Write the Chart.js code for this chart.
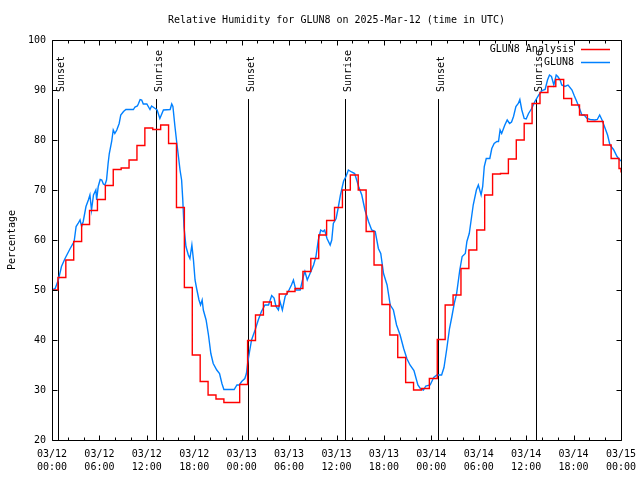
<!DOCTYPE html>
<html>
<head>
<meta charset="utf-8">
<title>Relative Humidity for GLUN8</title>
<script src="https://cdn.jsdelivr.net/npm/chart.js@4.4.1/dist/chart.umd.min.js"></script>
<style>
  html, body { margin: 0; padding: 0; background: #fff; }
  canvas { display: block; }
</style>
</head>
<body>
<canvas id="graficoUmidade" width="640" height="480"></canvas>
<script>
var chartTitle = 'Relative Humidity for GLUN8 on 2025-Mar-12 (time in UTC)';
var yAxisTitle = 'Percentage';
var seriesNames = ['GLUN8 Analysis', 'GLUN8'];

// x axis is hours since 03/12 00:00 UTC
var xTickLabels = [
    ['03/12', '00:00'], ['03/12', '06:00'], ['03/12', '12:00'], ['03/12', '18:00'],
    ['03/13', '00:00'], ['03/13', '06:00'], ['03/13', '12:00'], ['03/13', '18:00'],
    ['03/14', '00:00'], ['03/14', '06:00'], ['03/14', '12:00'], ['03/14', '18:00'],
    ['03/15', '00:00']
];

var eventHours = [0.8, 13.2, 24.75, 37.1, 48.8, 61.2];
var eventLabels = ['Sunset', 'Sunrise', 'Sunset', 'Sunrise', 'Sunset', 'Sunrise'];

// analysis: hourly values, each one holds from (hour + 0.75) to the next
var redStartValue = 50;
var redEndValue = 73.5;
var redValues = [
    52.5, 56, 59.7, 63.1, 65.9, 68.1, 70.9, 74.1, 74.4, 76,
    78.9, 82.4, 82.1, 83, 79.3, 66.5, 50.5, 37, 31.7, 29,
    28.2, 27.5, 27.5, 31.1, 39.9, 45, 47.6, 46.8, 49.2, 49.7,
    50.3, 53.7, 56.3, 61, 63.9, 66.5, 70, 73, 70, 61.7,
    55, 47.1, 41, 36.5, 31.5, 30, 30.3, 32.3, 40.1, 47,
    49, 54.3, 58, 62, 69, 73.2, 73.3, 76.2, 80, 83.3,
    87.3, 89.5, 90.7, 92.1, 88.3, 87, 85, 83.7, 83.7, 79,
    76.3, 74.3
];

// station observations
var blueHours = [
    0, 0.4, 0.8, 1.2, 1.65, 2.3, 2.8, 3.05, 3.3, 3.55,
    3.75, 3.95, 4.3, 4.6, 4.8, 5.0, 5.25, 5.55, 5.65, 5.85,
    6.1, 6.3, 6.5, 6.7, 6.9, 7.1, 7.25, 7.55, 7.75, 7.95,
    8.2, 8.5, 8.7, 9.05, 9.35, 10.3, 10.5, 10.8, 10.95, 11.15,
    11.35, 11.55, 12.0, 12.4, 12.6, 13.05, 13.3, 13.65, 14.1, 14.95,
    15.15, 15.3, 15.55, 15.8, 16.0, 16.2, 16.4, 16.55, 16.7, 16.95,
    17.25, 17.45, 17.7, 17.9, 18.1, 18.3, 18.6, 18.8, 19.0, 19.15,
    19.5, 19.8, 20.1, 20.4, 20.85, 21.2, 21.5, 21.75, 23.05, 23.4,
    23.7, 24.0, 24.4, 24.6, 24.75, 25.0, 25.25, 25.7, 26.1, 26.5,
    26.95, 27.4, 27.8, 28.1, 28.35, 28.65, 28.85, 29.15, 29.5, 29.9,
    30.3, 30.55, 30.85, 31.4, 31.6, 31.8, 32.0, 32.3, 32.65, 33.1,
    33.4, 33.7, 34.0, 34.3, 34.5, 34.8, 35.2, 35.4, 35.6, 35.95,
    36.2, 36.5, 36.9, 37.2, 37.5, 37.9, 38.3, 38.65, 38.8, 39.2,
    39.6, 40.05, 40.45, 40.9, 41.3, 41.6, 41.95, 42.4, 42.8, 43.2,
    43.6, 44.05, 44.5, 44.9, 45.3, 45.8, 46.3, 46.6, 47.0, 47.3,
    47.85, 48.3, 48.7, 49.3, 49.6, 49.95, 50.3, 50.6, 50.9, 51.2,
    51.6, 51.9, 52.3, 52.5, 52.8, 53.1, 53.3, 53.7, 53.95, 54.3,
    54.5, 54.7, 54.95, 55.4, 55.65, 55.95, 56.3, 56.5, 56.7, 56.9,
    57.3, 57.6, 57.9, 58.15, 58.4, 58.7, 59.0, 59.2, 59.45, 59.75,
    60.0, 60.3, 60.7, 61.1, 61.6, 62.0, 62.4, 62.7, 62.95, 63.2,
    63.5, 63.8, 64.0, 64.3, 64.5, 64.9, 65.3, 65.8, 66.1, 66.4,
    66.75, 67.05, 67.35, 67.7, 68.1, 68.7, 69.0, 69.3, 69.6, 70.0,
    70.3, 70.6, 71.05, 71.5, 71.8, 72.0
];
var blueValues = [
    50, 50.3, 52, 54.7, 56.3, 58.3, 59.7, 62.7, 63.3, 64,
    62.7, 63.7, 66.7, 68, 69, 66, 69, 70, 68, 70.7,
    72.1, 72, 71.2, 71, 72, 75.3, 77.3, 79.7, 82, 81.3,
    82, 83.3, 85, 85.7, 86.1, 86.1, 86.6, 86.8, 87.3, 88.1,
    88, 87.2, 87.2, 86.1, 86.8, 86.3, 86, 84.3, 86, 86.1,
    87.2, 86.7, 82.8, 79.3, 76.7, 74, 72, 68, 62.7, 58.7,
    57, 56.3, 59, 56, 52, 50.3, 48, 47, 48, 46,
    44, 41, 37.3, 35.3, 34, 33.3, 31.3, 30.1, 30.1, 31,
    31, 31.7, 32.3, 33.3, 35.3, 37.7, 40, 42, 44, 45.7,
    47, 47, 48.9, 48.4, 46.7, 46, 47.7, 46, 48.7, 49.7,
    51, 52, 50, 50, 51.3, 52.7, 53.7, 52, 53.3, 55,
    56.7, 60, 62, 61.7, 62, 60.3, 59, 60, 63.3, 64.3,
    66.3, 69, 71.8, 72.7, 74, 73.6, 73.3, 71.5, 70.7, 69,
    66, 63.7, 62, 61.7, 58.3, 57.3, 53.3, 51, 47, 46,
    43, 41, 38.3, 36.3, 35, 33.9, 31, 30.3, 30, 30.8,
    31, 32.5, 33, 33, 34.5, 38.2, 42.3, 44.7, 47.3, 49.3,
    54, 56.7, 57.3, 59.7, 61.3, 64.7, 67, 70, 71, 69,
    70.7, 74.7, 76.3, 76.3, 78.3, 79.3, 79.7, 79.7, 82, 81.3,
    83, 84, 83.3, 83.6, 84.7, 86.7, 87.3, 88.1, 86, 84.3,
    84.2, 85.3, 86.3, 87.7, 89, 89.9, 90.1, 92, 93, 92.7,
    91, 93, 92.7, 92, 91, 90.7, 91, 90, 88.8, 87.7,
    86.3, 85, 85, 84.3, 84.1, 84, 84.1, 85, 84, 82.3,
    81, 79, 78.1, 76.7, 76.1, 75.8
];

var monoFont = '"DejaVu Sans Mono", "Liberation Mono", monospace';

var redPoints = [{ x: 0, y: redStartValue }];
redValues.forEach(function (v, i) {
    redPoints.push({ x: i + 0.75, y: v });
});
redPoints.push({ x: 72, y: redEndValue });

var bluePoints = blueHours.map(function (h, i) {
    return { x: h, y: blueValues[i] };
});

// gnuplot look: closed frame, inward tics, sun event markers, key in the corner
var gnuplotFrame = {
    id: 'gnuplotFrame',
    beforeDatasetsDraw: function (chart) {
        var ctx = chart.ctx;
        var area = chart.chartArea;
        var xs = chart.scales.x;
        var ys = chart.scales.y;
        var top = Math.round(ys.getPixelForValue(88.2));
        ctx.save();
        ctx.strokeStyle = '#000';
        ctx.fillStyle = '#000';
        ctx.lineWidth = 1;
        ctx.font = '10px ' + monoFont;
        eventHours.forEach(function (h, i) {
            var px = Math.round(xs.getPixelForValue(h)) + 0.5;
            ctx.beginPath();
            ctx.moveTo(px, top);
            ctx.lineTo(px, area.bottom);
            ctx.stroke();
            ctx.save();
            ctx.translate(px + 5.5, top - 7);
            ctx.rotate(-Math.PI / 2);
            ctx.textAlign = 'left';
            ctx.textBaseline = 'alphabetic';
            ctx.fillText(eventLabels[i], 0, 0);
            ctx.restore();
        });
        ctx.restore();
    },
    afterDraw: function (chart) {
        var ctx = chart.ctx;
        var area = chart.chartArea;
        var xs = chart.scales.x;
        var ys = chart.scales.y;
        var l = Math.round(area.left) + 0.5;
        var r = Math.round(area.right) + 0.5;
        var t = Math.round(area.top) + 0.5;
        var b = Math.round(area.bottom) + 0.5;
        ctx.save();
        ctx.strokeStyle = '#000';
        ctx.lineWidth = 1;
        ctx.beginPath();
        ctx.rect(l, t, r - l, b - t);
        for (var h = 0; h <= 72; h += 2) {
            var len = (h % 6 === 0) ? 5 : 3;
            var px = Math.round(xs.getPixelForValue(h)) + 0.5;
            ctx.moveTo(px, b);
            ctx.lineTo(px, b - len);
            ctx.moveTo(px, t);
            ctx.lineTo(px, t + len);
        }
        ys.ticks.forEach(function (tick) {
            var py = Math.round(ys.getPixelForValue(tick.value)) + 0.5;
            ctx.moveTo(l, py);
            ctx.lineTo(l + 5, py);
            ctx.moveTo(r, py);
            ctx.lineTo(r - 5, py);
        });
        ctx.stroke();

        ctx.font = '10px ' + monoFont;
        ctx.textAlign = 'right';
        ctx.textBaseline = 'middle';
        chart.data.datasets.forEach(function (ds, i) {
            var ky = Math.round(area.top + 9 + 13 * i) + 0.5;
            ctx.fillStyle = '#000';
            ctx.fillText(ds.label, area.right - 47, ky);
            ctx.strokeStyle = ds.borderColor;
            ctx.lineWidth = 1.5;
            ctx.beginPath();
            ctx.moveTo(area.right - 40, ky);
            ctx.lineTo(area.right - 11, ky);
            ctx.stroke();
        });
        ctx.restore();
    }
};

var configHumidity = {
    type: 'line',
    data: {
        datasets: [{
            label: seriesNames[0],
            data: redPoints,
            borderColor: '#ff0000',
            borderWidth: 1.4,
            stepped: 'before',
            pointRadius: 0,
            fill: false
        }, {
            label: seriesNames[1],
            data: bluePoints,
            borderColor: '#0080ff',
            borderWidth: 1.4,
            tension: 0,
            pointRadius: 0,
            fill: false
        }]
    },
    options: {
        responsive: false,
        animation: false,
        layout: {
            padding: { left: 0, right: 19, top: 0, bottom: 0 }
        },
        plugins: {
            legend: { display: false },
            tooltip: { enabled: false },
            title: {
                display: true,
                text: chartTitle,
                fullSize: false,
                color: '#000',
                font: { family: monoFont, size: 10, weight: 'normal', lineHeight: 1.2 },
                padding: { top: 14, bottom: 14 }
            }
        },
        scales: {
            x: {
                type: 'linear',
                min: 0,
                max: 72,
                grid: { display: false, drawTicks: false },
                border: { display: false },
                ticks: {
                    stepSize: 6,
                    autoSkip: false,
                    maxRotation: 0,
                    padding: 8,
                    color: '#000',
                    font: { family: monoFont, size: 10, lineHeight: 1.3 },
                    callback: function (value) {
                        return xTickLabels[Math.round(value / 6)];
                    }
                },
                afterFit: function (scale) {
                    scale.height = 40;
                    scale.paddingLeft = 0;
                    scale.paddingRight = 0;
                }
            },
            y: {
                min: 20,
                max: 100,
                grid: { display: false, drawTicks: false },
                border: { display: false },
                ticks: {
                    stepSize: 10,
                    padding: 6,
                    color: '#000',
                    font: { family: monoFont, size: 10 }
                },
                title: {
                    display: true,
                    text: yAxisTitle,
                    color: '#000',
                    font: { family: monoFont, size: 10, lineHeight: 1.2 },
                    padding: { top: 6, bottom: 0 }
                },
                afterFit: function (scale) {
                    scale.width = 52;
                    scale.paddingTop = 0;
                    scale.paddingBottom = 0;
                }
            }
        }
    },
    plugins: [gnuplotFrame]
};

window.onload = function () {
    var ctx = document.getElementById('graficoUmidade').getContext('2d');
    window.humidityChart = new Chart(ctx, configHumidity);
};
</script>
</body>
</html>
